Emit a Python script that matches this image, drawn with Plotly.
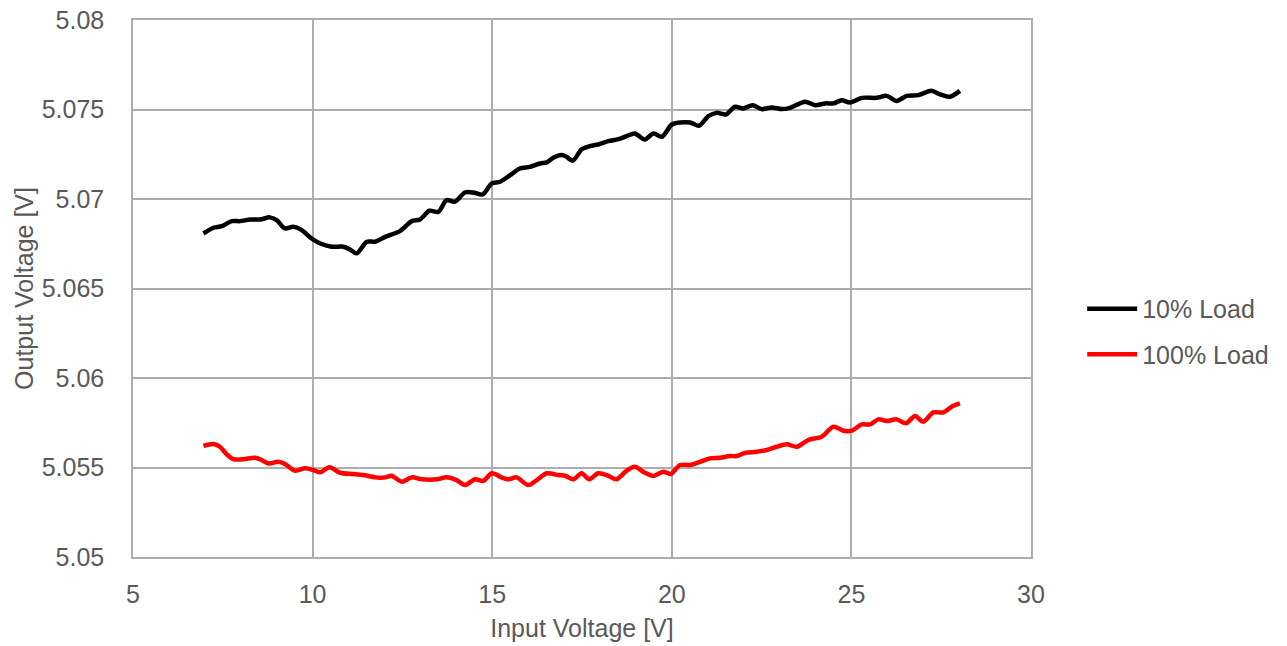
import plotly.graph_objects as go

# Input voltage [V] and output voltage [V]
vin_10 = [6.96, 7.24, 7.47, 7.75, 7.98, 8.26, 8.54, 8.81, 9.00, 9.23, 9.46, 9.70, 9.97,
          10.25, 10.53, 10.86, 11.04, 11.23, 11.51, 11.74, 12.02, 12.43, 12.76, 12.99,
          13.25, 13.50, 13.73, 13.96, 14.24, 14.47, 14.73, 14.99, 15.22, 15.50, 15.77,
          16.05, 16.33, 16.52, 16.70, 16.93, 17.07, 17.24, 17.49, 17.72, 17.95, 18.23,
          18.51, 18.74, 18.97, 19.25, 19.49, 19.72, 20.00, 20.23, 20.51, 20.76, 21.02,
          21.25, 21.51, 21.76, 21.99, 22.25, 22.50, 22.78, 23.06, 23.29, 23.71, 23.99,
          24.27, 24.50, 24.73, 24.96, 25.29, 25.70, 25.98, 26.26, 26.54, 26.86, 27.23,
          27.47, 27.74, 28.02]
vout_10 = [5.06808, 5.06840, 5.06849, 5.06877, 5.06877, 5.06886, 5.06886, 5.06898, 5.06883,
           5.06836, 5.06845, 5.06827, 5.06780, 5.06749, 5.06734, 5.06734, 5.06719, 5.06697,
           5.06762, 5.06762, 5.06789, 5.06821, 5.06877, 5.06886, 5.06935, 5.06929, 5.06994,
           5.06985, 5.07037, 5.07037, 5.07026, 5.07088, 5.07097, 5.07134, 5.07171, 5.07180,
           5.07199, 5.07205, 5.07231, 5.07246, 5.07237, 5.07214, 5.07278, 5.07296, 5.07305,
           5.07324, 5.07335, 5.07352, 5.07367, 5.07333, 5.07367, 5.07348, 5.07417, 5.07428,
           5.07428, 5.07410, 5.07464, 5.07482, 5.07473, 5.07516, 5.07507, 5.07525, 5.07503,
           5.07512, 5.07503, 5.07510, 5.07544, 5.07525, 5.07535, 5.07535, 5.07553, 5.07540,
           5.07566, 5.07566, 5.07577, 5.07549, 5.07577, 5.07581, 5.07605, 5.07585, 5.07572,
           5.07605]

vin_100 = [6.96, 7.24, 7.42, 7.61, 7.79, 8.07, 8.40, 8.58, 8.77, 9.05, 9.23, 9.51, 9.79,
           10.02, 10.21, 10.47, 10.76, 11.13, 11.41, 11.74, 12.02, 12.20, 12.48, 12.76,
           13.04, 13.46, 13.73, 14.01, 14.24, 14.52, 14.75, 14.99, 15.26, 15.45, 15.68,
           16.00, 16.24, 16.52, 16.84, 17.03, 17.26, 17.49, 17.70, 17.95, 18.23, 18.46,
           18.74, 18.97, 19.25, 19.49, 19.76, 19.97, 20.23, 20.51, 20.79, 21.06, 21.34,
           21.62, 21.81, 22.04, 22.36, 22.64, 22.92, 23.20, 23.48, 23.80, 24.17, 24.50,
           24.78, 25.01, 25.29, 25.52, 25.75, 25.98, 26.26, 26.52, 26.77, 27.00, 27.28,
           27.56, 27.79, 28.02]
vout_100 = [5.05622, 5.05631, 5.05616, 5.05574, 5.05547, 5.05546, 5.05555, 5.05542, 5.05523,
            5.05532, 5.05520, 5.05482, 5.05496, 5.05486, 5.05473, 5.05501, 5.05471, 5.05464,
            5.05458, 5.05445, 5.05445, 5.05454, 5.05421, 5.05445, 5.05434, 5.05434, 5.05445,
            5.05430, 5.05402, 5.05434, 5.05425, 5.05468, 5.05445, 5.05434, 5.05445, 5.05402,
            5.05430, 5.05468, 5.05458, 5.05454, 5.05434, 5.05468, 5.05434, 5.05468, 5.05454,
            5.05434, 5.05482, 5.05504, 5.05471, 5.05453, 5.05477, 5.05464, 5.05514, 5.05514,
            5.05532, 5.05551, 5.05555, 5.05564, 5.05564, 5.05582, 5.05588, 5.05598, 5.05616,
            5.05630, 5.05616, 5.05654, 5.05672, 5.05728, 5.05706, 5.05706, 5.05741, 5.05741,
            5.05769, 5.05760, 5.05769, 5.05747, 5.05788, 5.05756, 5.05808, 5.05808, 5.05840,
            5.05858]

series_names = ["10% Load", "100% Load"]
x_ticks = [5, 10, 15, 20, 25, 30]
y_ticks = [5.05, 5.055, 5.06, 5.065, 5.07, 5.075, 5.08]
y_tick_labels = ["5.05", "5.055", "5.06", "5.065", "5.07", "5.075", "5.08"]

text_color = "#595959"
grid_color = "#ADADAD"
font_family = "Liberation Sans, Arial, sans-serif"

fig = go.Figure()
fig.add_trace(go.Scatter(x=vin_10, y=vout_10, mode="lines", name=series_names[0],
                         legendgroup="a",
                         line=dict(color="#000000", width=4.5, shape="spline", smoothing=0.8)))
fig.add_trace(go.Scatter(x=vin_100, y=vout_100, mode="lines", name=series_names[1],
                         legendgroup="b",
                         line=dict(color="#FF0000", width=4.5, shape="spline", smoothing=0.8)))

fig.update_layout(
    width=1287, height=646,
    margin=dict(l=133, r=256, t=20, b=89, autoexpand=False),
    paper_bgcolor="white", plot_bgcolor="white",
    font=dict(family=font_family, size=25, color=text_color),
    legend=dict(x=1.057, xanchor="left", y=0.42, yanchor="middle",
                font=dict(size=25, color=text_color), tracegroupgap=10,
                itemwidth=50, bgcolor="rgba(0,0,0,0)"),
    xaxis=dict(range=[5, 30], tickvals=x_ticks, showgrid=True, gridcolor=grid_color,
               gridwidth=1.5, showline=True, mirror=True, linecolor=grid_color, linewidth=1.5,
               zeroline=False, ticks="", ticklabelstandoff=14, automargin=False,
               ticklabeloverflow="allow",
               title=dict(text="Input Voltage [V]", standoff=13,
                          font=dict(size=25, color=text_color))),
    yaxis=dict(range=[5.05, 5.08001], tickvals=y_ticks, ticktext=y_tick_labels, showgrid=True,
               gridcolor=grid_color, gridwidth=1.5, showline=True, mirror=True,
               linecolor=grid_color, linewidth=1.5, zeroline=False, ticks="",
               ticklabelstandoff=22, automargin=False, ticklabeloverflow="allow",
               title=dict(text="Output Voltage [V]", standoff=1,
                          font=dict(size=25, color=text_color))),
)

# Remove the default page margin so the 1287x646 figure fills the window exactly
fig.write_html("out.html",
               config={"displayModeBar": False},
               post_script="document.body.style.margin='0';document.body.style.overflow='hidden';")
